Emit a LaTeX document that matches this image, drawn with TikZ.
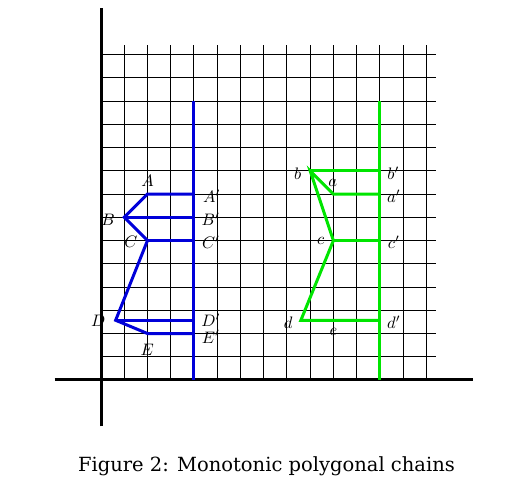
\documentclass[tikz,border=0pt]{standalone}
\usepackage{fontspec}
\newfontfamily\capfont{DejaVu Serif}
\begin{document}
\begin{tikzpicture}[x=23.24pt,y=23.24pt,
  gridline/.style={line width=1pt,black},
  axisline/.style={line width=3pt,black},
  bluechain/.style={line width=3pt,blue!85!black,line join=miter},
  greenchain/.style={line width=3pt,green!90!black,line join=miter},
  lbl/.style={inner sep=0pt,scale=1.66}]
\useasboundingbox (-4.346,-5.12) rectangle (17.857,16.351);
\draw[gridline,step=1] (0,0) grid (14.4,14.4);
\coordinate (xl) at (-2,0); \coordinate (xr) at (16,0);
\coordinate (yb) at (0,-2); \coordinate (yt) at (0,16);
\draw[axisline] (xl) -- (xr);
\draw[axisline] (yb) -- (yt);
% blue chain
\coordinate (Bbot) at (4,0); \coordinate (Btop) at (4,12);
\coordinate (A) at (2,8); \coordinate (Ap) at (4,8);
\coordinate (B) at (1,7); \coordinate (Bp) at (4,7);
\coordinate (C) at (2,6); \coordinate (Cp) at (4,6);
\coordinate (D) at (0.63,2.57); \coordinate (Dp) at (4,2.57);
\coordinate (E) at (2,2); \coordinate (Ep) at (4,2);
\draw[bluechain] (Bbot) -- (Btop);
\draw[bluechain] (Ap) -- (A) -- (B) -- (C) -- (D) -- (E) -- (Ep);
\draw[bluechain] (B) -- (Bp);
\draw[bluechain] (C) -- (Cp);
\draw[bluechain] (D) -- (Dp);
% green chain
\coordinate (Gbot) at (12,0); \coordinate (Gtop) at (12,12);
\coordinate (b) at (9,9); \coordinate (bp) at (12,9);
\coordinate (a) at (10,8); \coordinate (ap) at (12,8);
\coordinate (c) at (10,6); \coordinate (cp) at (12,6);
\coordinate (d) at (8.6,2.57); \coordinate (dp) at (12,2.57);
\draw[greenchain] (Gbot) -- (Gtop);
\draw[greenchain] (ap) -- (a) -- (b) -- (c) -- (d) -- (dp);
\draw[greenchain] (b) -- (bp);
\draw[greenchain] (c) -- (cp);
% blue labels
\node[lbl] (lA) at (2,8.55) {$A$};
\node[lbl] (lAp) at (4.76,7.9) {$A'$};
\node[lbl] (lB) at (0.31,6.91) {$B$};
\node[lbl] (lBp) at (4.72,6.93) {$B'$};
\node[lbl] (lC) at (1.29,5.95) {$C$};
\node[lbl] (lCp) at (4.73,5.94) {$C'$};
\node[lbl] (lD) at (-0.12,2.53) {$D$};
\node[lbl] (lDp) at (4.73,2.58) {$D'$};
\node[lbl] (lEp) at (4.73,1.86) {$E'$};
\node[lbl] (lE) at (1.99,1.29) {$E$};
% green labels
\node[lbl] (lb) at (8.46,8.89) {$b$};
\node[lbl] (lbp) at (12.58,8.89) {$b'$};
\node[lbl] (la) at (9.97,8.49) {$a$};
\node[lbl] (lap) at (12.6,7.89) {$a'$};
\node[lbl] (lc) at (9.45,5.98) {$c$};
\node[lbl] (lcp) at (12.6,5.91) {$c'$};
\node[lbl] (ld) at (8.06,2.48) {$d$};
\node[lbl] (ldp) at (12.6,2.5) {$d'$};
\node[lbl] (le) at (10,2.08) {$e$};
% caption
\node[inner sep=0pt,font=\capfont\fontsize{19.5}{23}\selectfont] (cap) at (7.12,-3.73) {Figure 2: Monotonic polygonal chains};
\end{tikzpicture}
\end{document}
